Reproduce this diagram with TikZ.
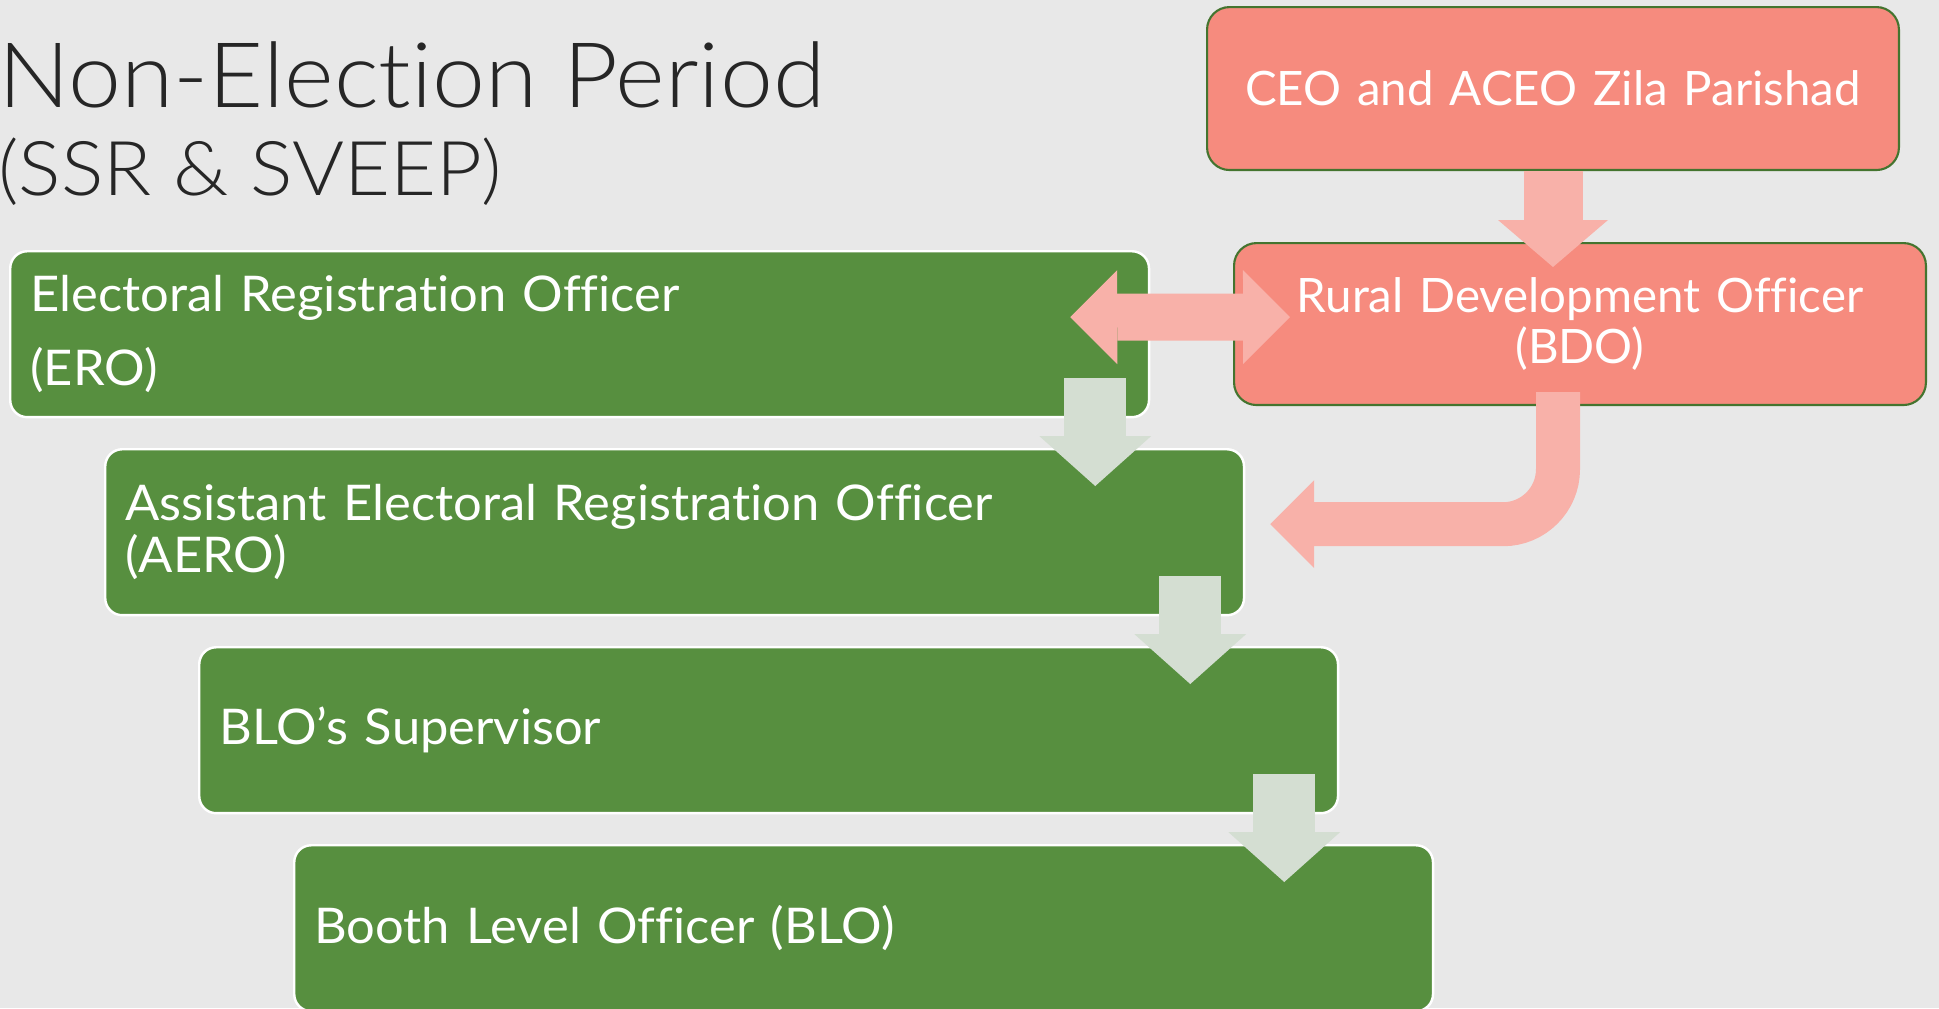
\documentclass[tikz,border=0pt]{standalone}
\usepackage{fontspec}
\setmainfont{Lato}[Ligatures=NoCommon]
\newfontfamily\boxfont{Lato}[Ligatures=NoCommon, FakeStretch=1.03]
\newfontfamily\titlefont{Lato Light}[Ligatures=NoCommon, FakeStretch=1.05]
\usetikzlibrary{arrows.meta,calc}
\definecolor{bgcol}{HTML}{E8E8E8}
\definecolor{leafgreen}{HTML}{578F3F}
\definecolor{salmon}{HTML}{F68B7E}
\definecolor{salmonlt}{HTML}{F8B1A9}
\definecolor{mintlt}{HTML}{D4DED2}
\definecolor{rimgreen}{HTML}{44742F}
\definecolor{inkgray}{HTML}{262626}

\begin{document}
\begin{tikzpicture}[x=0.02cm, y=-0.02cm,
    grnbox/.style={draw=white, line width=1.4pt, fill=leafgreen, rounded corners=0.34cm,
      minimum width=22.78cm, minimum height=3.32cm, text width=21.98cm, inner xsep=0.4cm,
      align=left, text=white, font=\boxfont\fontsize{28}{29.6}\selectfont, anchor=north west},
    pinkbox/.style={draw=rimgreen, line width=1.2pt, fill=salmon, rounded corners=0.45cm,
      minimum width=13.84cm, minimum height=3.26cm, text width=13cm,
      align=center, text=white, font=\fontsize{27}{29}\selectfont, anchor=north west},
    ttl/.style={text=inkgray, anchor=base west, inner sep=0pt},
    downarr/.style={draw=mintlt, line width=1.24cm,
      -{Triangle[length=1cm 0 0, width=2.24cm 0 0, line width=0pt 0 0]}},
    pinkarr/.style={draw=salmonlt}]
    \fill[bgcol] (0,0) rectangle (1939,1008);
    \useasboundingbox (0,0) rectangle (1939,1008);
    \node[ttl, font=\titlefont\fontsize{51.5}{52}\selectfont] (title1) at (-2,107) {Non-Election Period};
    \node[ttl, font=\titlefont\fontsize{43}{44}\selectfont] (title2) at (-2,195) {(SSR \& SVEEP)};
    \node[grnbox] (ero) at (9,250) {Electoral Registration Officer\\[0.44cm](ERO)};
    \node[grnbox] (aero) at (104,448) {Assistant Electoral Registration Officer\\(AERO)};
    \node[grnbox] (sup) at (198,646) {BLO’s Supervisor};
    \node[grnbox] (blo) at (293,844) {Booth Level Officer (BLO)};
    \node[pinkbox] (ceo) at (1206,6) {CEO and ACEO Zila Parishad};
    \node[pinkbox, minimum height=3.24cm] (bdo) at (1233,242) {Rural Development Officer\\(BDO)};
    \draw[downarr] ($(ero.south east)+(-55,-40)$) -- ($(ero.south east |- aero.north)+(-55,38)$);
    \draw[downarr] ($(aero.south east)+(-55,-40)$) -- ($(aero.south east |- sup.north)+(-55,38)$);
    \draw[downarr] ($(sup.south east)+(-55,-40)$) -- ($(sup.south east |- blo.north)+(-55,38)$);
    \draw[pinkarr, line width=1.18cm,
      -{Triangle[length=0.94cm 0 0, width=2.2cm 0 0, line width=0pt 0 0]}]
      (ceo.south) -- ($(ceo.south |- bdo.north)+(0,25)$);
    \draw[pinkarr, line width=0.94cm,
      {Triangle[length=0.94cm 0 0, width=1.88cm 0 0, line width=0pt 0 0]}-{Triangle[length=0.94cm 0 0, width=1.88cm 0 0, line width=0pt 0 0]}]
      ($(ero.east)+(-80,-17)$) -- ($(bdo.west)+(57,-7)$);
    \draw[pinkarr, line width=0.88cm, rounded corners=1.1cm,
      -{Triangle[length=0.88cm 0 0, width=1.76cm 0 0, line width=0pt 0 0]}]
      ($(bdo.south)+(-22,-14)$) |- ($(aero.east)+(25,-8)$);
  \end{tikzpicture}
\end{document}
